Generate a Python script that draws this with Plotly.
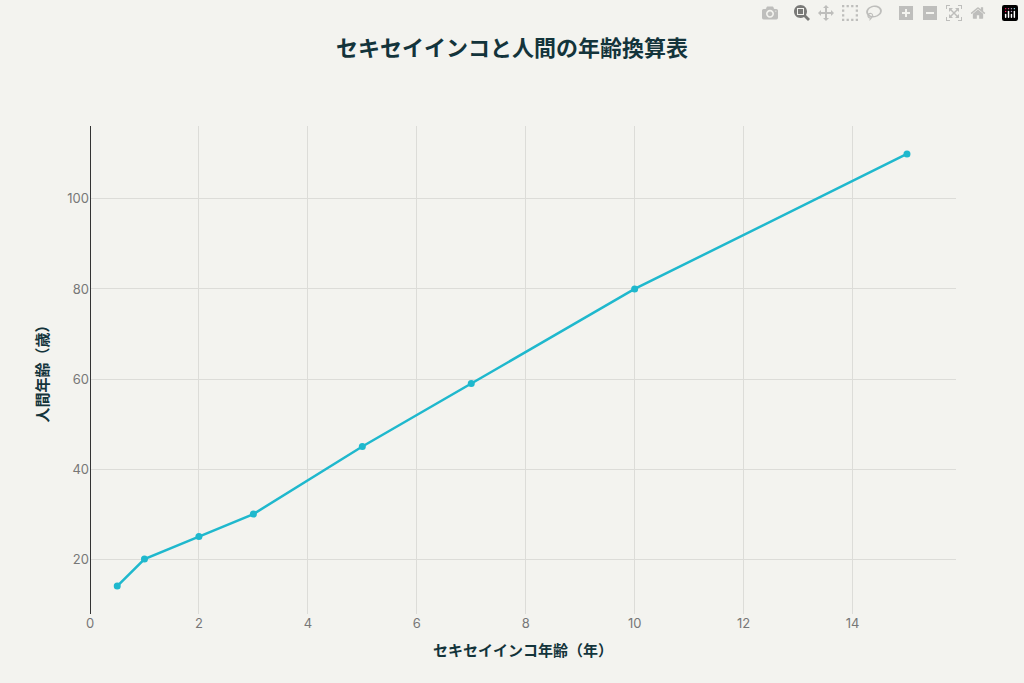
import plotly.graph_objects as go

bird_age = [0.5, 1, 2, 3, 5, 7, 10, 15]
human_age = [14, 20, 25, 30, 45, 59, 80, 110]

fig = go.Figure(go.Scatter(
    x=bird_age, y=human_age, mode="lines+markers",
    line=dict(color="#1fb8cd", width=2.5),
    marker=dict(color="#1fb8cd", size=7),
    showlegend=False))

font = "Noto Sans CJK JP"
tickf = dict(size=13, color="#777", family="Inter")
fig.update_layout(
    width=1024, height=683,
    paper_bgcolor="#f3f3ef", plot_bgcolor="#f3f3ef",
    margin=dict(l=90, r=68, t=126, b=69),
    font=dict(family=font, color="#777"),
    title=dict(text="<b>セキセイインコと人間の年齢換算表</b>", x=0.5, y=0.94,
               xanchor="center", font=dict(size=22, color="#13343b", family=font)),
    xaxis=dict(range=[0, 15.9], dtick=2, showgrid=True, gridcolor="#dcdcd8",
               zeroline=True, zerolinecolor="#333", zerolinewidth=1,
               tickfont=tickf,
               title=dict(text="<b>セキセイインコ年齢（年）</b>", font=dict(size=15, color="#13343b"))),
    yaxis=dict(range=[7.8, 116.2], dtick=20, showgrid=True, gridcolor="#dcdcd8",
               zeroline=False, tickfont=tickf,
               title=dict(text="<b>人間年齢（歳）</b>", font=dict(size=15, color="#13343b"))),
)
fig.write_html("out.html", post_script="document.body.style.margin='0';")
